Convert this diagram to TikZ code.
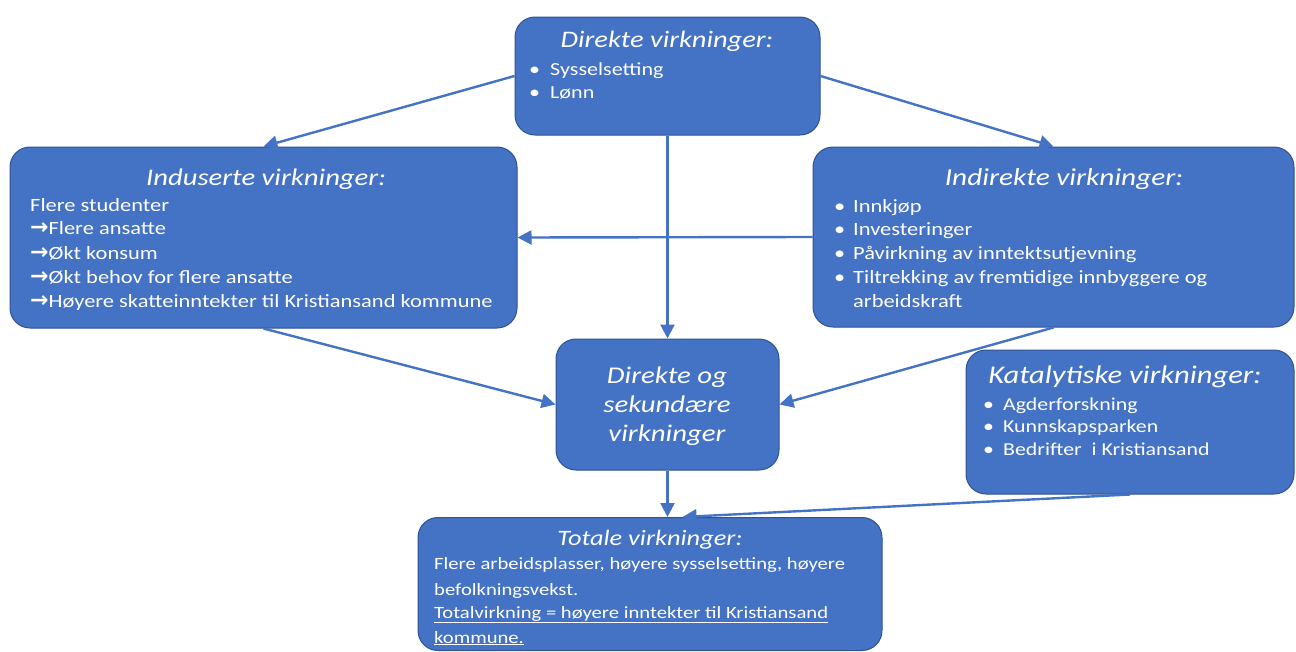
\documentclass[tikz,border=0pt]{standalone}
\usepackage{fontspec}
\setmainfont{Carlito}[FakeStretch=1.2]
\newfontfamily\arrfont{DejaVu Sans}
\usetikzlibrary{arrows.meta,calc}
\definecolor{boxfill}{HTML}{4472C4}
\definecolor{boxline}{HTML}{2F528F}
\tikzset{
  box/.style={draw=boxline, line width=1pt, fill=boxfill, rounded corners=20pt, inner sep=0pt},
  ttl/.style={text=white, font=\fontsize{#1}{30}\selectfont\itshape, anchor=base, inner sep=0pt},
  ttl/.default=24,
  big/.style={text=white, font=\fontsize{24}{30}\selectfont\itshape, anchor=base, inner sep=0pt},
  txt/.style={text=white, font=\fontsize{#1}{22}\selectfont, anchor=base west, inner sep=0pt},
  txt/.default=18.6,
  con/.style={draw=boxfill, line width=2.4pt, -{Triangle[length=14pt,width=14pt]}}
}
\newcommand\ar{{\arrfont\bfseries\fontsize{22}{22}\selectfont →}}
\begin{document}
\begin{tikzpicture}[x=1pt,y=-1pt]
\useasboundingbox (0,0) rectangle (1296,651);
\clip (0,0) rectangle (1296,651);
% boxes
\node[box, minimum width=305pt, minimum height=118pt] (top) at (667.5,76) {};
\node[box, minimum width=507pt, minimum height=181pt] (lft) at (263.5,237.5) {};
\node[box, minimum width=481pt, minimum height=180pt] (rgt) at (1053.5,237) {};
\node[box, minimum width=223pt, minimum height=131pt] (ctr) at (667.5,404.5) {};
\node[box, minimum width=328pt, minimum height=144pt] (cat) at (1130,422) {};
\node[box, minimum width=464pt, minimum height=133pt] (bot) at (650,584) {};
% top texts
\node[ttl=23.7] (t0) at (667,47) {Direkte virkninger:};
\node[txt=18.4] (t1b) at (529,75) {•};
\node[txt=18.4] (t1) at (550,75) {Sysselsetting};
\node[txt=18.4] (t2b) at (529,98) {•};
\node[txt=18.4] (t2) at (550,98) {Lønn};
% left texts
\node[ttl=23.9] (l0) at (266,185) {Induserte virkninger:};
\node[txt=18.7] (l1) at (30,211) {Flere studenter};
\node[txt=18.7] (l2) at (30,234) {\ar Flere ansatte};
\node[txt=18.7] (l3) at (30,259) {\ar Økt konsum};
\node[txt=18.7] (l4) at (30,283) {\ar Økt behov for flere ansatte};
\node[txt=18.7] (l5) at (30,307) {\ar Høyere skatteinntekter til Kristiansand kommune};
% right texts
\node[ttl=24.4] (r0) at (1064,185) {Indirekte virkninger:};
\node[txt=18.7] (r1b) at (834,212) {•};
\node[txt=18.7] (r1) at (853,212) {Innkjøp};
\node[txt=18.7] (r2b) at (834,235) {•};
\node[txt=18.7] (r2) at (853,235) {Investeringer};
\node[txt=18.7] (r3b) at (834,259) {•};
\node[txt=18.7] (r3) at (853,259) {Påvirkning av inntektsutjevning};
\node[txt=18.7] (r4b) at (834,283) {•};
\node[txt=18.7] (r4) at (853,283) {Tiltrekking av fremtidige innbyggere og};
\node[txt=18.7] (r5) at (853,307) {arbeidskraft};
% centre texts
\node[big] (c1) at (667,383) {Direkte og};
\node[big] (c2) at (667,412) {sekundære};
\node[big] (c3) at (667,441) {virkninger};
% catalytic texts
\node[ttl=25.5] (k0) at (1125,383) {Katalytiske virkninger:};
\node[txt=18.2] (k1b) at (983,410) {•};
\node[txt=18.2] (k1) at (1003,410) {Agderforskning};
\node[txt=18.2] (k2b) at (983,432) {•};
\node[txt=18.2] (k2) at (1003,432) {Kunnskapsparken};
\node[txt=18.2] (k3b) at (983,455) {•};
\node[txt=18.2] (k3) at (1003,455) {Bedrifter\ \ i Kristiansand};
% bottom texts
\node[ttl=22] (b0) at (650,545) {Totale virkninger:};
\node[txt=17.2] (b1) at (434,569) {Flere arbeidsplasser, høyere sysselsetting, høyere};
\node[txt=17.2] (b2) at (434,595) {befolkningsvekst.};
\node[txt=17.2] (b3) at (434,618) {\underline{Totalvirkning = høyere inntekter til Kristiansand}};
\node[txt=17.2] (b4) at (434,643) {\underline{kommune.}};
% connectors
\draw[con] (top.west) -- (lft.north);
\draw[con] (top.east) -- (rgt.north);
\draw[con] (top.south) -- (ctr.north);
\draw[con] (rgt.west) -- (lft.east);
\draw[con] (lft.south) -- (ctr.west);
\draw[con] (rgt.south) -- (ctr.east);
\draw[con] (ctr.south) -- (ctr.south |- bot.north);
\draw[con] (cat.south) -- ($(bot.north west)!0.57!(bot.north east)$);
\end{tikzpicture}
\end{document}
